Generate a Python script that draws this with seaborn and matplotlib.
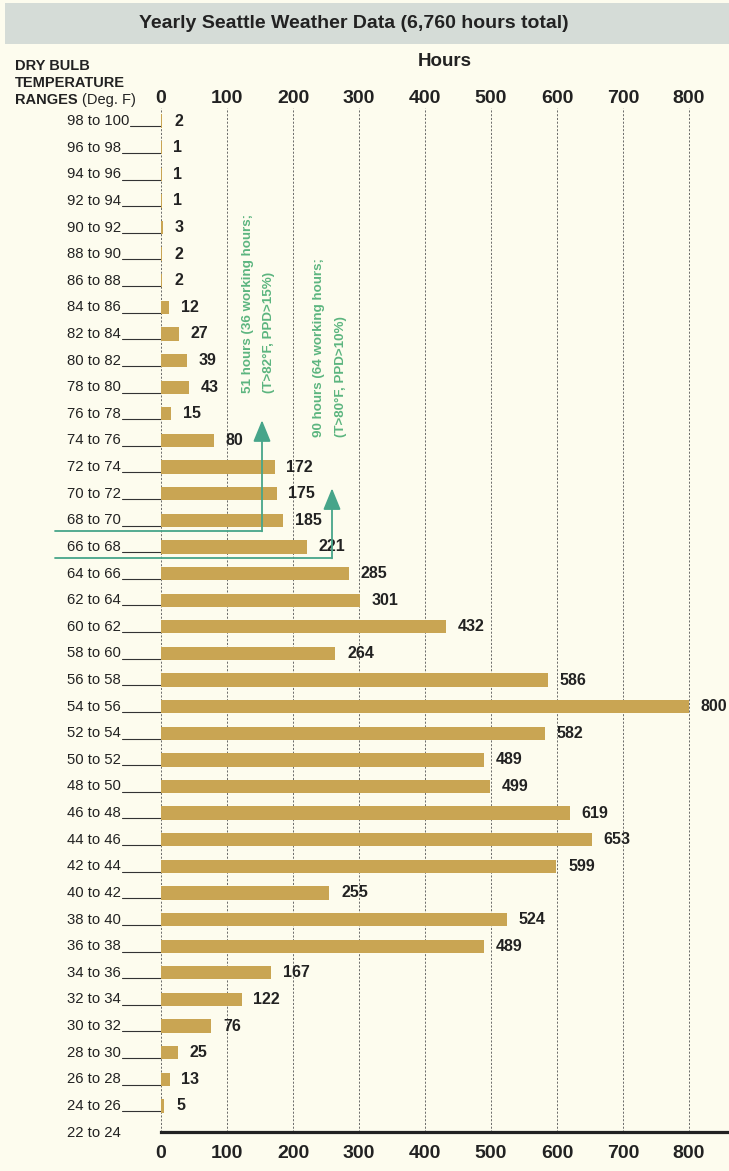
import matplotlib
matplotlib.use("Agg")
import matplotlib.pyplot as plt
import matplotlib.transforms as mtransforms
from matplotlib.patches import Rectangle
from matplotlib.lines import Line2D
import pandas as pd
import seaborn as sns

# ---- data -------------------------------------------------------------
temp_ranges = [
    "98 to 100", "96 to 98", "94 to 96", "92 to 94", "90 to 92", "88 to 90",
    "86 to 88", "84 to 86", "82 to 84", "80 to 82", "78 to 80", "76 to 78",
    "74 to 76", "72 to 74", "70 to 72", "68 to 70", "66 to 68", "64 to 66",
    "62 to 64", "60 to 62", "58 to 60", "56 to 58", "54 to 56", "52 to 54",
    "50 to 52", "48 to 50", "46 to 48", "44 to 46", "42 to 44", "40 to 42",
    "38 to 40", "36 to 38", "34 to 36", "32 to 34", "30 to 32", "28 to 30",
    "26 to 28", "24 to 26", "22 to 24",
]
hours = [
    2, 1, 1, 1, 3, 2, 2, 12, 27, 39, 43, 15, 80, 172, 175, 185, 221, 285,
    301, 432, 264, 586, 800, 582, 489, 499, 619, 653, 599, 255, 524, 489,
    167, 122, 76, 25, 13, 5, None,
]
hour_ticks = [0, 100, 200, 300, 400, 500, 600, 700, 800]

title = "Yearly Seattle Weather Data (6,760 hours total)"
axis_title = "Hours"
row_title = ["DRY BULB", "TEMPERATURE"]
note_82 = ["51 hours (36 working hours;", "(T>82°F, PPD>15%)"]
note_80 = ["90 hours (64 working hours;", "(T>80°F, PPD>10%)"]

# ---- style ------------------------------------------------------------
BG = "#fdfcee"
BAND = "#d5dcd7"
BAR = "#c9a553"
INK = "#222222"
GREEN_TXT = "#5cb57f"
GREEN_LINE = "#47a58a"
NARROW = ["Liberation Sans Narrow", "Liberation Sans", "DejaVu Sans"]
SANS = ["Liberation Sans", "DejaVu Sans"]

sns.set_theme(style="white")
plt.rcParams["font.family"] = SANS

W, H = 729, 1171
fig = plt.figure(figsize=(W / 100, H / 100), dpi=100)
fig.patch.set_facecolor(BG)

# pixel frame measured from the top-left corner of the figure
PX = mtransforms.Affine2D().scale(1, -1).translate(0, H)

AX_L, AX_R, AX_T, AX_B = 161, 729, 108, 1132
ax = fig.add_axes([AX_L / W, 1 - AX_B / H, (AX_R - AX_L) / W, (AX_B - AX_T) / H])
ax.set_facecolor("none")

df = pd.DataFrame({
    "range": temp_ranges,
    "hours": [h if h is not None else 0 for h in hours],
})
sns.barplot(data=df, x="hours", y="range", orient="h", color=BAR,
            saturation=1, width=0.5, linewidth=0, errorbar=None,
            ax=ax, zorder=3)

scale = 0.66  # pixels per hour
ax.set_xlim(0, (AX_R - AX_L) / scale)
ax.set_ylim(37.98, -0.49)

# dashed vertical guides
for t in hour_ticks:
    ax.axvline(t, color="#555555", lw=0.6, ls=(0, (2.5, 2)), zorder=1)

for side in ["left", "right", "top"]:
    ax.spines[side].set_visible(False)
ax.spines["bottom"].set_color(INK)
ax.spines["bottom"].set_linewidth(2.3)

ax.set_xlabel("")
ax.set_ylabel("")
ax.set_xticks(hour_ticks)
ax.set_xticklabels([str(t) for t in hour_ticks])
ax.tick_params(axis="x", length=0, pad=9, labelsize=14, colors=INK)
for lab in ax.get_xticklabels():
    lab.set_fontweight("bold")
ax.tick_params(axis="y", left=False, labelleft=False)

top = ax.secondary_xaxis("top")
top.set_xticks(hour_ticks)
top.set_xticklabels([str(t) for t in hour_ticks])
top.tick_params(length=0, pad=1, labelsize=14, colors=INK)
for lab in top.get_xticklabels():
    lab.set_fontweight("bold")
top.spines["top"].set_visible(False)

# value labels
ax.bar_label(ax.containers[0],
             labels=["" if h is None else str(h) for h in hours],
             padding=8.5, fontsize=11.5, fontweight="bold", color=INK)

# row labels with leader lines to the zero axis
row_tf = mtransforms.blended_transform_factory(PX, ax.transData)
row_texts = []
for i, name in enumerate(temp_ranges):
    row_texts.append(ax.text(67, i, name, transform=row_tf, ha="left",
                             va="center", fontsize=10.7, family=NARROW,
                             color=INK, clip_on=False))

fig.canvas.draw()
renderer = fig.canvas.get_renderer()
for i, (txt, h) in enumerate(zip(row_texts, hours)):
    if h is None:
        continue
    x_end_px = txt.get_window_extent(renderer).x1  # display px == figure px
    ax.add_line(Line2D([x_end_px + 1, AX_L], [i + 0.2, i + 0.2],
                       transform=row_tf, color="#333333", lw=0.8,
                       clip_on=False))

# header band and titles
fig.patches.append(Rectangle((5, 3), W - 5, 41, transform=PX,
                             facecolor=BAND, edgecolor="none", zorder=0))
fig.text(354, 23, title, transform=PX, ha="center", va="center",
         fontsize=14, fontweight="bold", family=NARROW, color=INK)
fig.text(445, 62, axis_title, transform=PX, ha="center", va="center",
         fontsize=13.5, fontweight="bold", family=NARROW, color=INK)
fig.text(15, 66, row_title[0], transform=PX, ha="left", va="center",
         fontsize=10.5, fontweight="bold", family=NARROW, color=INK)
fig.text(15, 83, row_title[1], transform=PX, ha="left", va="center",
         fontsize=10.5, fontweight="bold", family=NARROW, color=INK)
t_r = fig.text(15, 100, "RANGES", transform=PX, ha="left", va="center",
               fontsize=10.5, fontweight="bold", family=NARROW, color=INK)
fig.canvas.draw()
x_r = t_r.get_window_extent(renderer).x1
fig.text(x_r + 4, 100, "(Deg. F)", transform=PX, ha="left", va="center",
         fontsize=10.5, family=NARROW, color=INK)

# threshold markers with arrows
def hx(px):
    return (px - AX_L) / scale

def ry(py):
    return (py - 121) / 26.6

for y_line, x_arrow, y_tip in [(531, 262, 420), (558, 332, 488)]:
    ax.add_line(Line2D([hx(55), hx(x_arrow)], [ry(y_line), ry(y_line)],
                       color=GREEN_LINE, lw=1.3, clip_on=False, zorder=5))
    ax.annotate("", xy=(hx(x_arrow), ry(y_tip)),
                xytext=(hx(x_arrow), ry(y_line)),
                arrowprops=dict(arrowstyle="-|>,head_length=1.1,head_width=0.45",
                                color=GREEN_LINE, lw=1.3, shrinkA=0, shrinkB=0),
                zorder=5, annotation_clip=False)

for (x1, x2, yb), lines in [((248, 269, 393), note_82), ((319, 341, 437), note_80)]:
    for xc, line in zip((x1, x2), lines):
        fig.text(xc, yb, line, transform=PX, rotation=90,
                 rotation_mode="anchor", ha="left", va="center",
                 fontsize=9.6, fontweight="bold", family=NARROW,
                 color=GREEN_TXT)

fig.savefig("out.png", dpi=100, facecolor=BG)
